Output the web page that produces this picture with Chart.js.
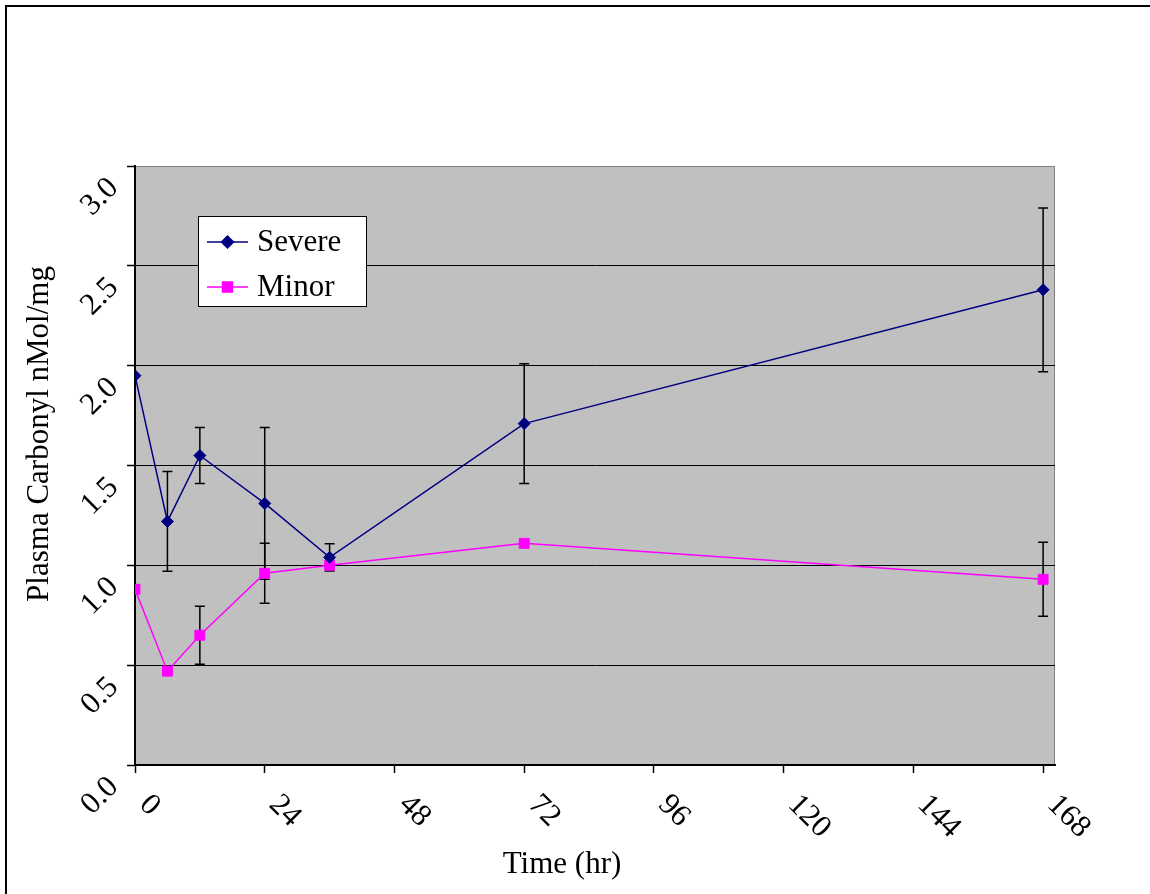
<!DOCTYPE html>
<html lang="en">
<head>
  <meta charset="UTF-8">
  <title>Plasma Carbonyl</title>
  <script src="https://cdn.jsdelivr.net/npm/chart.js"></script>
  <style>
    body { margin: 0; background: #fff; overflow: hidden; }
    #frame { position: absolute; left: 5px; top: 5px; width: 2000px; height: 2000px; border: 2px solid #000; }
    #wrap { position: absolute; left: 0; top: 0; width: 1150px; height: 894px; }
  </style>
</head>
<body>
  <div id="frame"></div>
  <div id="wrap"><canvas id="chart"></canvas></div>

  <script>
    // data
    const hours = [0, 6, 12, 24, 36, 72, 168];
    const severe = [1.95, 1.22, 1.55, 1.31, 1.04, 1.71, 2.38];
    const severeErr = [0, 0.25, 0.14, 0.38, 0.068, 0.30, 0.41];
    const minor = [0.88, 0.47, 0.65, 0.96, 1.0, 1.11, 0.93];
    const minorErr = [0, 0.005, 0.145, 0.15, 0, 0.005, 0.185];
    const xTicks = [0, 24, 48, 72, 96, 120, 144, 168];
    const yTicks = [0, 0.5, 1.0, 1.5, 2.0, 2.5, 3.0];

    const serif = '"Liberation Serif", "Times New Roman", serif';

    // grey plot area with thin grey top/right edges
    const plotBg = {
      id: 'plotBg',
      beforeDraw(chart) {
        const { ctx, chartArea: a } = chart;
        ctx.save();
        ctx.fillStyle = '#c0c0c0';
        ctx.fillRect(a.left, a.top, a.right - a.left, a.bottom - a.top);
        ctx.strokeStyle = '#808080';
        ctx.lineWidth = 1;
        ctx.beginPath();
        ctx.moveTo(a.left, a.top + 0.5);
        ctx.lineTo(a.right - 0.5, a.top + 0.5);
        ctx.lineTo(a.right - 0.5, a.bottom);
        ctx.stroke();
        ctx.restore();
      }
    };

    // error bars, drawn under the markers
    const errorBars = {
      id: 'errorBars',
      beforeDatasetsDraw(chart) {
        const { ctx, scales: { x, y } } = chart;
        const sets = [[severe, severeErr], [minor, minorErr]];
        ctx.save();
        ctx.strokeStyle = '#000';
        ctx.lineWidth = 1.5;
        sets.forEach(([vals, errs]) => {
          hours.forEach((h, i) => {
            if (!errs[i]) return;
            const px = x.getPixelForValue(h);
            const hi = y.getPixelForValue(vals[i] + errs[i]);
            const lo = y.getPixelForValue(vals[i] - errs[i]);
            ctx.beginPath();
            ctx.moveTo(px, hi); ctx.lineTo(px, lo);
            ctx.moveTo(px - 5, hi); ctx.lineTo(px + 5, hi);
            ctx.moveTo(px - 5, lo); ctx.lineTo(px + 5, lo);
            ctx.stroke();
          });
        });
        ctx.restore();
      }
    };

    // rotated tick labels, titles and the boxed legend
    const decorations = {
      id: 'decorations',
      afterDraw(chart) {
        const { ctx, scales: { x, y } } = chart;
        ctx.save();
        ctx.fillStyle = '#000';
        ctx.font = '31px ' + serif;

        ctx.textAlign = 'center';
        ctx.textBaseline = 'middle';
        yTicks.forEach(v => {
          ctx.save();
          ctx.translate(100, y.getPixelForValue(v) + 31);
          ctx.rotate(-Math.PI / 4);
          ctx.fillText(v.toFixed(1), 0, 0);
          ctx.restore();
        });

        ctx.textAlign = 'left';
        xTicks.forEach(v => {
          ctx.save();
          ctx.translate(x.getPixelForValue(v) + 9, 800);
          ctx.rotate(Math.PI / 4);
          ctx.fillText(String(v), 0, 0);
          ctx.restore();
        });

        ctx.font = '31px ' + serif;
        ctx.textAlign = 'center';
        ctx.fillText('Time (hr)', 562, 865);
        ctx.save();
        ctx.translate(40, 434);
        ctx.rotate(-Math.PI / 2);
        ctx.fillText('Plasma Carbonyl nMol/mg', 0, 0);
        ctx.restore();

        // legend box
        ctx.fillStyle = '#fff';
        ctx.fillRect(198, 216, 168, 90);
        ctx.strokeStyle = '#000';
        ctx.lineWidth = 1;
        ctx.strokeRect(198.5, 216.5, 168, 90);
        const items = [
          { label: 'Severe', color: '#000080', style: 'rectRot', r: 6, yy: 242 },
          { label: 'Minor', color: '#ff00ff', style: 'rect', r: 7, yy: 287 }
        ];
        ctx.textAlign = 'left';
        items.forEach(it => {
          ctx.strokeStyle = it.color;
          ctx.lineWidth = 1.5;
          ctx.beginPath();
          ctx.moveTo(207, it.yy); ctx.lineTo(248, it.yy);
          ctx.stroke();
          ctx.fillStyle = it.color;
          Chart.helpers.drawPoint(ctx, { pointStyle: it.style, radius: it.r, borderWidth: 1 }, 227.5, it.yy);
          ctx.fill();
          ctx.fillStyle = '#000';
          ctx.fillText(it.label, 257, it.yy + 1);
        });
        ctx.restore();
      }
    };

    new Chart(document.getElementById('chart'), {
      type: 'line',
      data: {
        datasets: [
          {
            label: 'Severe',
            data: hours.map((h, i) => ({ x: h, y: severe[i] })),
            borderColor: '#000080',
            backgroundColor: '#000080',
            borderWidth: 1.5,
            pointStyle: 'rectRot',
            pointRadius: 6,
            pointBorderWidth: 1,
            tension: 0
          },
          {
            label: 'Minor',
            data: hours.map((h, i) => ({ x: h, y: minor[i] })),
            borderColor: '#ff00ff',
            backgroundColor: '#ff00ff',
            borderWidth: 1.5,
            pointStyle: 'rect',
            pointRadius: 7,
            pointBorderWidth: 1,
            tension: 0
          }
        ]
      },
      options: {
        responsive: true,
        maintainAspectRatio: false,
        animation: false,
        layout: { padding: { top: 166, right: 95, bottom: 0, left: 0 } },
        plugins: { legend: { display: false }, tooltip: { enabled: false } },
        scales: {
          x: {
            type: 'linear',
            min: 0,
            max: 170.2,
            afterBuildTicks: s => { s.ticks = xTicks.map(v => ({ value: v })); },
            afterFit: s => { s.height = 129; },
            ticks: { display: false },
            grid: { drawOnChartArea: false, tickLength: 8, tickColor: '#000', tickWidth: 1.5 },
            border: { color: '#000', width: 2 }
          },
          y: {
            min: 0,
            max: 3,
            afterBuildTicks: s => { s.ticks = yTicks.map(v => ({ value: v })); },
            afterFit: s => { s.width = 135; },
            ticks: { display: false },
            grid: {
              color: c => (c.tick && (c.tick.value === 0 || c.tick.value === 3)) ? 'rgba(0,0,0,0)' : '#000',
              lineWidth: 1,
              tickLength: 8,
              tickColor: '#000',
              tickWidth: 1.5
            },
            border: { color: '#000', width: 2 }
          }
        }
      },
      plugins: [plotBg, errorBars, decorations]
    });
  </script>
</body>
</html>
